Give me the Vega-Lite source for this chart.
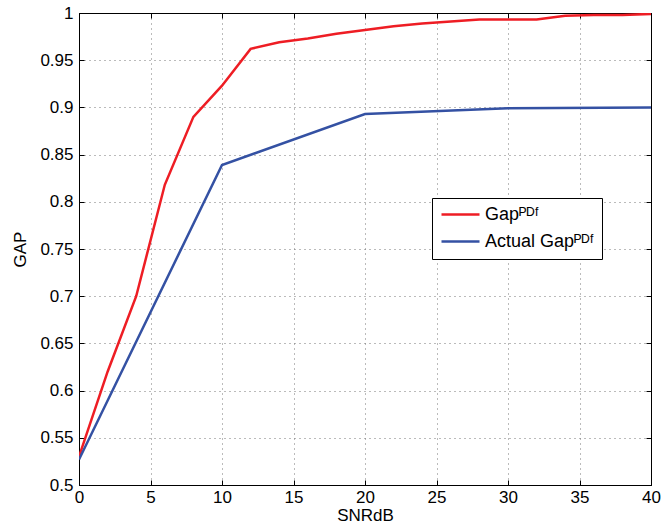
{
  "$schema": "https://vega.github.io/schema/vega-lite/v6.json",
  "width": 572,
  "height": 472,
  "autosize": {"type": "none"},
  "padding": {"left": 79, "top": 13, "right": 11, "bottom": 42},
  "background": "white",
  "data": {"values": [
    {"snr": 0, "gap": 0.53, "series": "Gap"},
    {"snr": 2, "gap": 0.62, "series": "Gap"},
    {"snr": 4, "gap": 0.70, "series": "Gap"},
    {"snr": 6, "gap": 0.818, "series": "Gap"},
    {"snr": 8, "gap": 0.89, "series": "Gap"},
    {"snr": 10, "gap": 0.923, "series": "Gap"},
    {"snr": 12, "gap": 0.962, "series": "Gap"},
    {"snr": 14, "gap": 0.969, "series": "Gap"},
    {"snr": 16, "gap": 0.973, "series": "Gap"},
    {"snr": 18, "gap": 0.978, "series": "Gap"},
    {"snr": 20, "gap": 0.982, "series": "Gap"},
    {"snr": 22, "gap": 0.986, "series": "Gap"},
    {"snr": 24, "gap": 0.989, "series": "Gap"},
    {"snr": 26, "gap": 0.991, "series": "Gap"},
    {"snr": 28, "gap": 0.993, "series": "Gap"},
    {"snr": 30, "gap": 0.993, "series": "Gap"},
    {"snr": 32, "gap": 0.993, "series": "Gap"},
    {"snr": 34, "gap": 0.997, "series": "Gap"},
    {"snr": 36, "gap": 0.998, "series": "Gap"},
    {"snr": 38, "gap": 0.998, "series": "Gap"},
    {"snr": 40, "gap": 0.999, "series": "Gap"},
    {"snr": 0, "gap": 0.527, "series": "Actual Gap"},
    {"snr": 10, "gap": 0.839, "series": "Actual Gap"},
    {"snr": 20, "gap": 0.893, "series": "Actual Gap"},
    {"snr": 30, "gap": 0.899, "series": "Actual Gap"},
    {"snr": 40, "gap": 0.9, "series": "Actual Gap"}
  ]},
  "layer": [
    {
      "mark": {"type": "line", "strokeWidth": 2.5, "clip": true},
      "encoding": {
        "x": {
          "field": "snr", "type": "quantitative",
          "scale": {"domain": [0, 40], "nice": false},
          "axis": {"title": "SNRdB", "values": [0, 5, 10, 15, 20, 25, 30, 35, 40], "labelPadding": 9, "titlePadding": 2}
        },
        "y": {
          "field": "gap", "type": "quantitative",
          "scale": {"domain": [0.5, 1], "nice": false, "zero": false},
          "axis": {"title": "GAP", "values": [0.5, 0.55, 0.6, 0.65, 0.7, 0.75, 0.8, 0.85, 0.9, 0.95, 1], "format": ".2~f", "labelPadding": 11, "titlePadding": 10}
        },
        "color": {
          "field": "series", "type": "nominal",
          "scale": {"domain": ["Gap", "Actual Gap"], "range": ["#ee1d24", "#3451a3"]},
          "legend": {
            "title": null,
            "orient": "none",
            "legendX": 353,
            "legendY": 185,
            "labelExpr": "datum.label + 'ᴾᴰᶠ'",
            "symbolType": "stroke",
            "symbolSize": 1444,
            "symbolStrokeWidth": 2.5,
            "clipHeight": 17,
            "labelFontSize": 18,
            "labelFont": "Liberation Sans",
            "labelColor": "black",
            "strokeColor": "black",
            "fillColor": "white",
            "padding": 8,
            "rowPadding": 8,
            "labelOffset": 4
          }
        }
      }
    },
    {
      "mark": {"type": "line", "opacity": 0},
      "encoding": {
        "x": {
          "field": "snr", "type": "quantitative",
          "axis": {"orient": "top", "title": null, "labels": false, "grid": false, "values": [0, 5, 10, 15, 20, 25, 30, 35, 40]}
        },
        "y": {
          "field": "gap", "type": "quantitative",
          "axis": {"orient": "right", "title": null, "labels": false, "grid": false, "values": [0.5, 0.55, 0.6, 0.65, 0.7, 0.75, 0.8, 0.85, 0.9, 0.95, 1]}
        },
        "detail": {"field": "series", "type": "nominal"}
      }
    }
  ],
  "resolve": {"axis": {"x": "independent", "y": "independent"}},
  "config": {
    "view": {"stroke": "black", "strokeWidth": 1},
    "axis": {
      "labelFont": "Liberation Sans",
      "titleFont": "Liberation Sans",
      "labelFontSize": 17,
      "titleFontSize": 17,
      "titleFontWeight": "normal",
      "labelColor": "black",
      "titleColor": "black",
      "domainColor": "black",
      "tickColor": "black",
      "tickSize": -5,
      "grid": true,
      "gridColor": "#777777",
      "gridDash": [1, 4],
      "gridOpacity": 1,
      "labelFlush": false
    }
  }
}
